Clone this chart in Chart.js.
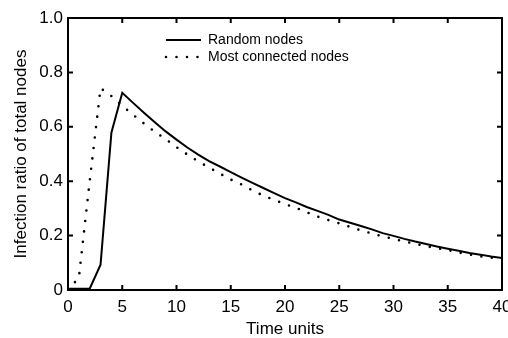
<!DOCTYPE html>
<html>
<head>
<meta charset="utf-8">
<script src="https://cdn.jsdelivr.net/npm/chart.js@4/dist/chart.umd.min.js"></script>
<style>
  html, body { margin: 0; padding: 0; background: #fff; }
  #wrap { width: 508px; height: 338px; position: relative; }
</style>
</head>
<body>
<div id="wrap"><canvas id="c" width="508" height="338"></canvas></div>
<script>
// ---- data ----
const timeUnits = [0,1,2,3,4,5,6,7,8,9,10,11,12,13,14,15,16,17,18,19,20,21,22,23,24,25,26,27,28,29,30,31,32,33,34,35,36,37,38,39,40];
const randomNodes = [0.005,0.005,0.005,0.093,0.578,0.725,0.688,0.652,0.617,0.583,0.553,0.524,0.498,0.474,0.454,0.433,0.413,0.394,0.375,0.356,0.338,0.322,0.305,0.291,0.276,0.259,0.247,0.235,0.223,0.209,0.199,0.188,0.178,0.169,0.160,0.152,0.144,0.136,0.130,0.123,0.118];
const mostConnectedNodes = [0,0.045,0.40,0.742,0.713,0.677,0.644,0.612,0.582,0.555,0.525,0.498,0.473,0.450,0.428,0.406,0.388,0.366,0.347,0.331,0.316,0.302,0.286,0.270,0.257,0.245,0.232,0.219,0.208,0.197,0.188,0.178,0.170,0.161,0.154,0.147,0.138,0.131,0.124,0.119,0.114];
const seriesLabels = ["Random nodes", "Most connected nodes"];
const xTicks = [0,5,10,15,20,25,30,35,40];
const yTicks = [0,0.2,0.4,0.6,0.8,1.0];
const xTitle = "Time units";
const yTitle = "Infection ratio of total nodes";

const FONT = "'Liberation Sans', Arial, Helvetica, sans-serif";

const toPts = (ys) => timeUnits.map((t, i) => ({x: t, y: ys[i]}));

const boxPlugin = {
  id: 'boxTicks',
  afterDraw(chart) {
    const {ctx, chartArea: a, scales} = chart;
    ctx.save();
    ctx.strokeStyle = '#000';
    ctx.lineWidth = 2;
    ctx.lineCap = 'butt';
    ctx.strokeRect(a.left, a.top, a.right - a.left, a.bottom - a.top);
    const tl = 5;
    ctx.beginPath();
    xTicks.forEach(v => {
      const px = scales.x.getPixelForValue(v);
      ctx.moveTo(px, a.bottom); ctx.lineTo(px, a.bottom - tl);
      ctx.moveTo(px, a.top); ctx.lineTo(px, a.top + tl);
    });
    yTicks.forEach(v => {
      const py = scales.y.getPixelForValue(v);
      ctx.moveTo(a.left, py); ctx.lineTo(a.left + tl, py);
      ctx.moveTo(a.right, py); ctx.lineTo(a.right - tl, py);
    });
    ctx.stroke();

    // legend
    const ds = chart.data.datasets;
    const lx0 = 166, lx1 = 201, tx = 208;
    const rows = [40, 57];
    ctx.font = '14px ' + FONT;
    ctx.fillStyle = '#000';
    ctx.textBaseline = 'middle';
    ctx.textAlign = 'left';
    ds.forEach((d, i) => {
      ctx.beginPath();
      ctx.lineWidth = d.borderWidth;
      ctx.lineCap = d.borderCapStyle || 'butt';
      ctx.setLineDash(d.borderDash || []);
      ctx.moveTo(lx0, rows[i]); ctx.lineTo(lx1, rows[i]);
      ctx.stroke();
      ctx.setLineDash([]);
      ctx.fillText(d.label, tx, rows[i]);
    });
    ctx.restore();
  }
};

new Chart(document.getElementById('c'), {
  type: 'line',
  data: {
    datasets: [
      {
        label: seriesLabels[0],
        data: toPts(randomNodes),
        borderColor: '#000',
        borderWidth: 2,
        pointRadius: 0,
        tension: 0,
        fill: false
      },
      {
        label: seriesLabels[1],
        data: toPts(mostConnectedNodes),
        borderColor: '#000',
        borderWidth: 2.6,
        borderDash: [0, 10.5],
        borderCapStyle: 'round',
        pointRadius: 0,
        tension: 0,
        fill: false
      }
    ]
  },
  options: {
    responsive: false,
    animation: false,
    devicePixelRatio: 1,
    layout: { padding: { top: 18, right: 6, left: 0, bottom: 0 } },
    plugins: { legend: { display: false }, tooltip: { enabled: false } },
    scales: {
      x: {
        type: 'linear',
        min: 0, max: 40,
        afterBuildTicks: (s) => { s.ticks = xTicks.map(v => ({value: v})); },
        afterFit: (s) => { s.height = 48; s.paddingLeft = 0; s.paddingRight = 0; },
        grid: { display: false, drawTicks: false },
        border: { display: false },
        ticks: { color: '#000', padding: 7, font: { family: FONT, size: 17 }, maxRotation: 0, autoSkip: false },
        title: { display: true, text: xTitle, color: '#000', font: { family: FONT, size: 17, lineHeight: 1 }, padding: { top: 0, bottom: 0 } }
      },
      y: {
        min: 0, max: 1,
        afterBuildTicks: (s) => { s.ticks = yTicks.map(v => ({value: v})); },
        afterFit: (s) => { s.width = 68; s.paddingTop = 0; s.paddingBottom = 0; },
        grid: { display: false, drawTicks: false },
        border: { display: false },
        ticks: { color: '#000', padding: 5, font: { family: FONT, size: 17 }, callback: (v) => v === 0 ? '0' : v.toFixed(1) },
        title: { display: true, text: yTitle, color: '#000', font: { family: FONT, size: 17, lineHeight: 1 }, padding: { top: 13, bottom: 0 } }
      }
    }
  },
  plugins: [boxPlugin]
});
</script>
</body>
</html>
